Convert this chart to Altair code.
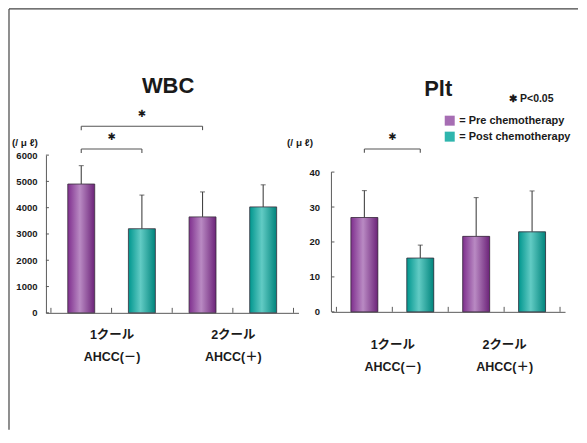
import altair as alt
import pandas as pd

# ---------------- data ----------------
groups = ["1クール", "2クール"]
ahcc_labels = ["AHCC(－)", "AHCC(＋)"]
conditions = ["Pre chemotherapy", "Post chemotherapy"]
# bars in drawing order: group1-pre, group1-post, group2-pre, group2-post
bar_group = ["1クール", "1クール", "2クール", "2クール"]
bar_cond = ["Pre chemotherapy", "Post chemotherapy", "Pre chemotherapy", "Post chemotherapy"]
wbc_mean = [4900, 3200, 3650, 4030]
wbc_sd = [700, 1280, 950, 840]
plt_mean = [27.0, 15.4, 21.6, 22.9]
plt_sd = [7.7, 3.7, 11.1, 11.7]
wbc_ticks = [0, 1000, 2000, 3000, 4000, 5000, 6000]
plt_ticks = [0, 10, 20, 30, 40]
# significance brackets: first bar index, second bar index, bracket level
wbc_sig_from = [0, 0]
wbc_sig_to = [1, 2]
wbc_sig_level = [6230, 7100]
plt_sig_from = [0]
plt_sig_to = [1]
plt_sig_level = [46.6]

FONT = "Liberation Sans, Noto Sans CJK JP, sans-serif"
AX = "#5a5a5a"
INK = "#1a1a1a"

bars = pd.DataFrame({
    "slot": list(range(len(bar_cond))),
    "group": bar_group,
    "cond": bar_cond,
    "wbc": wbc_mean,
    "wbc_sd": wbc_sd,
    "plt": plt_mean,
    "plt_sd": plt_sd,
})

n = len(bar_cond)
x_ticks = [i - 0.5 for i in range(n + 1)]
parts = []
for gi, g in enumerate(groups):
    parts.append(f"datum.value == {2 * gi + 0.5} ? ['{g}', '{ahcc_labels[gi]}']")
label_expr = " : ".join(parts) + " : ''"

xs = alt.Scale(domain=[-0.5, n - 0.5], nice=False, zero=False)


def grad(c_edge_l, c_mid, c_edge_r):
    return alt.Gradient(
        gradient="linear", x1=0, x2=1, y1=0, y2=0,
        stops=[alt.GradientStop(offset=0, color=c_edge_l),
               alt.GradientStop(offset=0.45, color=c_mid),
               alt.GradientStop(offset=1, color=c_edge_r)])


PURPLE = grad("#7f2f8e", "#b98ac3", "#6c2379")
TEAL = grad("#00968e", "#62cbc4", "#00847c")


def panel(field, sd_field, title, title_x, title_y, ticks, ymax, width, height,
          ylab_pad, xlab_pad, unit_x, sig_from, sig_to, sig_level, drop,
          show_domain=True, legend=False, frame=False, extra=None):
    ys = alt.Scale(domain=[0, ymax], nice=False, zero=True)
    base = alt.Chart(bars)
    xaxis = alt.Axis(values=x_ticks, title=None, labelExpr=label_expr,
                     labelFontSize=12.5, labelFontWeight="bold", labelFont=FONT,
                     labelColor=INK, labelLineHeight=22, labelPadding=xlab_pad,
                     ticks=False, domainColor=AX,
                     labelOverlap=False, labelFlush=False, grid=False)
    yaxis = alt.Axis(values=ticks, format="d", title="(/ μ ℓ)", titleAngle=0, titleX=unit_x,
                     titleY=-13, titleAlign="center", titleBaseline="middle",
                     titleFontSize=10, titleFontWeight="bold", titleFont=FONT,
                     titleColor=INK, labelFontSize=9.5, labelFontWeight="bold",
                     labelFont=FONT, labelColor=INK, ticks=False,
                     labelPadding=ylab_pad, domainColor=AX,
                     domain=show_domain, grid=False)

    def X(f):
        return alt.X(f, scale=xs, axis=xaxis)

    def Y(f):
        return alt.Y(f, scale=ys, axis=yaxis)

    layers = []
    if legend:
        layers.append(base.mark_bar(width=27).encode(
            x=X("slot:Q"), y=Y(f"{field}:Q"),
            color=alt.Color("cond:N", scale=alt.Scale(domain=conditions, range=["#a66db3", "#2fb5ad"]),
                            legend=alt.Legend(title=None, orient="none", legendX=113, legendY=-40,
                                              symbolType="square", symbolSize=100, symbolStrokeWidth=0,
                                              labelFontSize=11, labelFontWeight="bold", labelFont=FONT,
                                              labelColor=INK, labelExpr="'= ' + datum.label",
                                              rowPadding=4, labelOffset=4, padding=0))))
    for cond, fill in [(conditions[0], PURPLE), (conditions[1], TEAL)]:
        layers.append(base.transform_filter(alt.datum.cond == cond).mark_bar(
            width=27, fill=fill, stroke="#3a2e3c", strokeWidth=0.8).encode(
            x=X("slot:Q"), y=Y(f"{field}:Q")))
    err = base.transform_calculate(hi=f"datum.{field} + datum.{sd_field}")
    layers.append(err.mark_rule(color="#444", strokeWidth=1.1).encode(
        x=X("slot:Q"), y=Y(f"{field}:Q"), y2="hi:Q"))
    layers.append(err.mark_tick(orient="horizontal", size=5, thickness=1.1, color="#444").encode(
        x=X("slot:Q"), y=Y("hi:Q")))
    # inward axis ticks
    layers.append(alt.Chart(pd.DataFrame({"t": x_ticks})).mark_rule(color=AX, strokeWidth=1).encode(
        x=X("t:Q"), y=alt.value(height), y2=alt.value(height - 5)))
    layers.append(alt.Chart(pd.DataFrame({"t": ticks})).mark_rule(color=AX, strokeWidth=1).encode(
        y=Y("t:Q"), x=alt.value(0), x2=alt.value(3)))
    sig = alt.Chart(pd.DataFrame({"a": sig_from, "b": sig_to, "level": sig_level})).transform_calculate(
        mid="(datum.a + datum.b) / 2", bottom=f"datum.level - {drop}")
    layers.append(sig.mark_rule(color="#555", strokeWidth=1.1).encode(
        x=X("a:Q"), x2="b:Q", y=Y("level:Q")))
    for end in ["a", "b"]:
        layers.append(sig.mark_rule(color="#555", strokeWidth=1.1).encode(
            x=X(f"{end}:Q"), y=Y("level:Q"), y2="bottom:Q"))
    layers.append(sig.mark_text(text="✱", fontSize=10, fontWeight="bold", color=INK,
                                baseline="middle", dy=-12, font="DejaVu Sans").encode(
        x=X("mid:Q"), y=Y("level:Q")))
    if not show_domain:
        layers.append(alt.Chart(pd.DataFrame({"lo": [ticks[0]], "hi": [ticks[-1]]})).mark_rule(
            color=AX, strokeWidth=1).encode(
            x=alt.value(0), y=Y("lo:Q"), y2="hi:Q"))
    # panel title
    layers.append(alt.Chart(pd.DataFrame({"t": [title]})).mark_text(
        fontSize=22, fontWeight="bold", font=FONT, color=INK, align="center",
        baseline="alphabetic").encode(text="t:N", x=alt.value(title_x), y=alt.value(title_y)))
    if frame:
        one = alt.Chart(pd.DataFrame({"k": [0]}))
        layers.append(one.mark_rule(color="#444", strokeWidth=1.2).encode(
            x=alt.value(-37), x2=alt.value(533), y=alt.value(-146.4)))
        layers.append(one.mark_rule(color="#444", strokeWidth=1.2).encode(
            x=alt.value(-37), y=alt.value(-146.4), y2=alt.value(275)))
    if extra is not None:
        layers.append(extra)
    return alt.layer(*layers).properties(width=width, height=height)


pnote = alt.Chart(pd.DataFrame({"t": ["✱ P<0.05"]})).mark_text(
    align="left", baseline="middle", fontSize=10.5, fontWeight="bold", font=FONT, color=INK
).encode(text="t:N", x=alt.value(178), y=alt.value(-56))

wbc = panel("wbc", "wbc_sd", "WBC", 122.4, -62, wbc_ticks, wbc_ticks[-1], 253, 158, 9, 16,
            -21.6, wbc_sig_from, wbc_sig_to, wbc_sig_level, 150, frame=True)
plt_panel = panel("plt", "plt_sd", "Plt", 107, -59, plt_ticks, plt_ticks[-1] * 157 / 140, 234, 157,
                  12, 27, -32, plt_sig_from, plt_sig_to, plt_sig_level, 1.1,
                  show_domain=False, legend=True, extra=pnote)

chart = alt.hconcat(wbc, plt_panel, spacing=33, bounds="flush").resolve_scale(
    color="independent").resolve_legend(color="independent").properties(
    padding=0).configure_view(strokeWidth=0)

chart.save("out.html", embed_options={"renderer": "svg", "actions": False})
